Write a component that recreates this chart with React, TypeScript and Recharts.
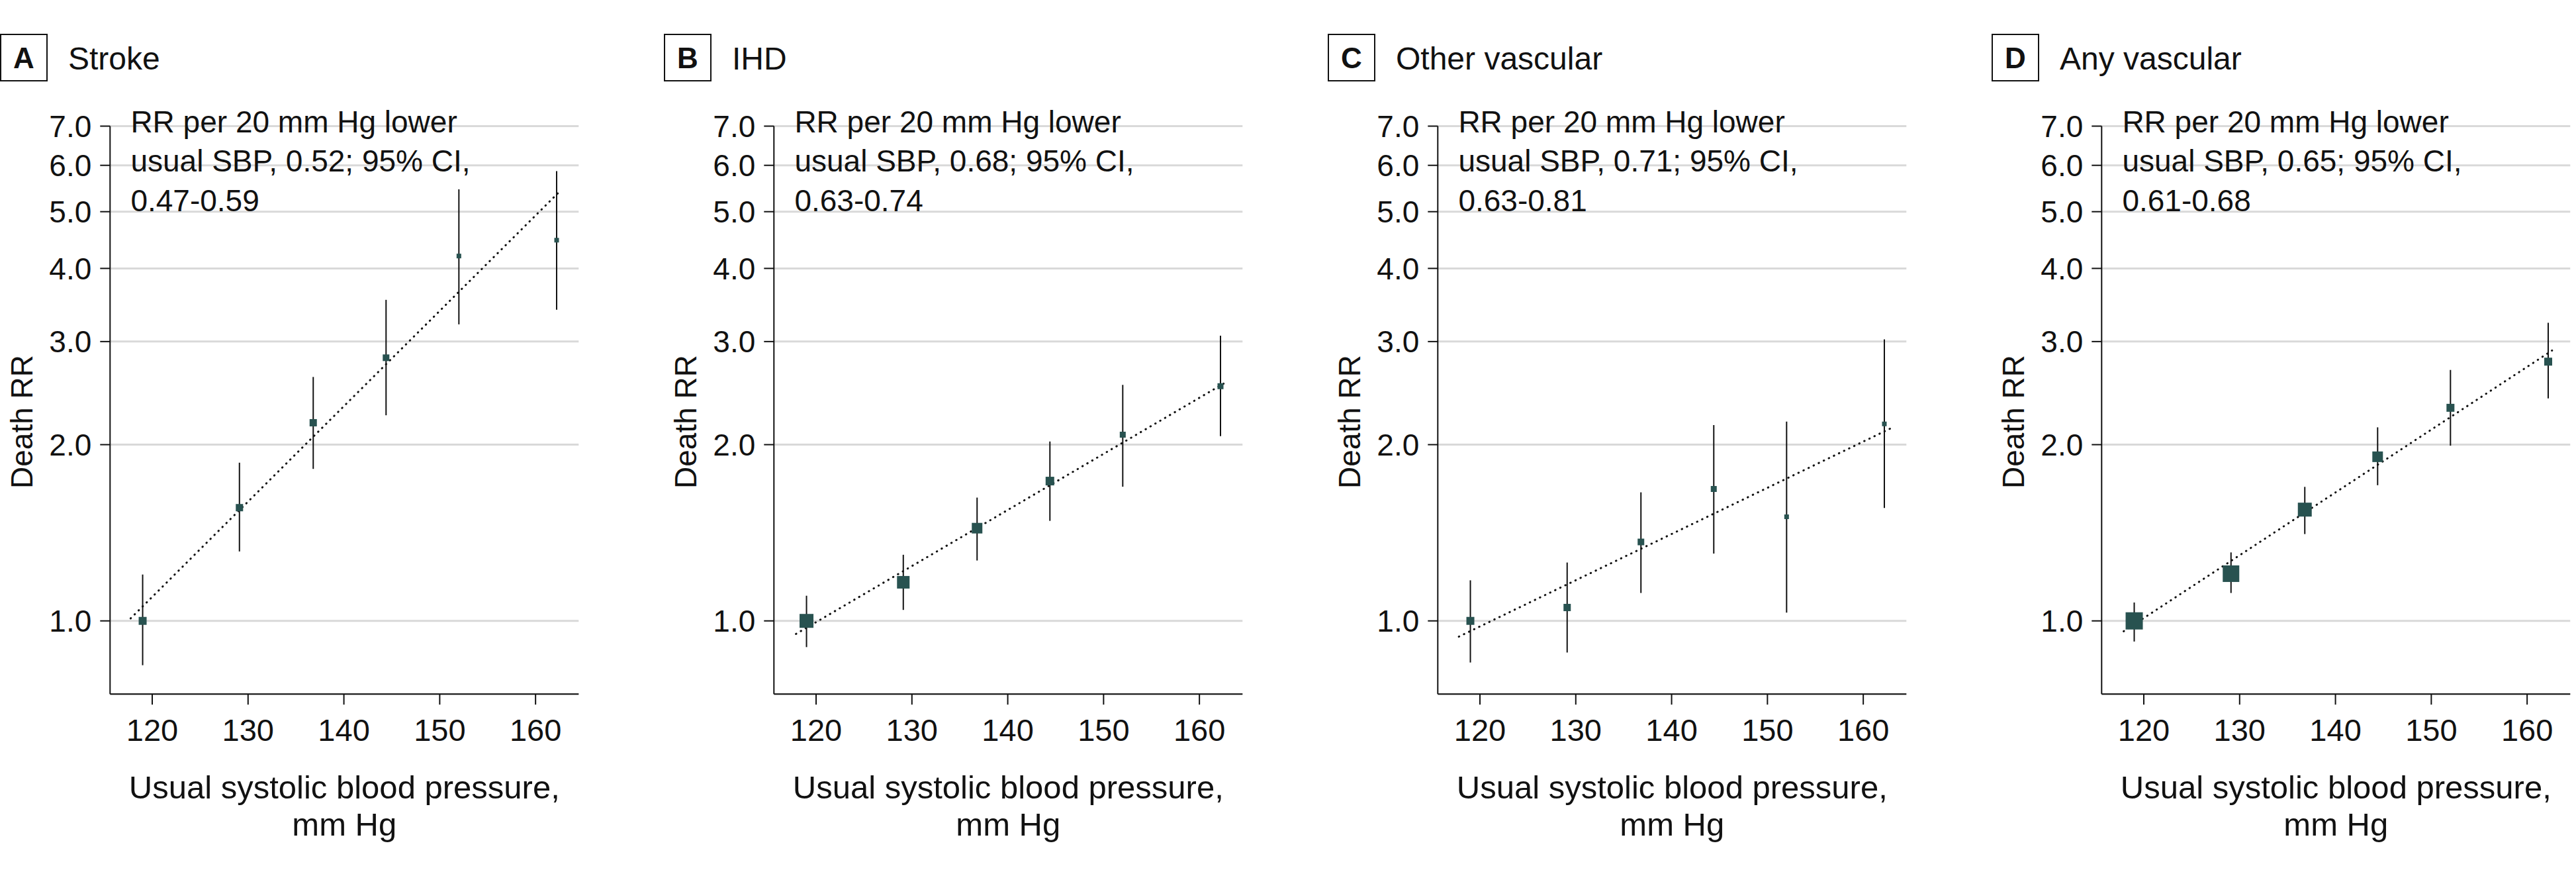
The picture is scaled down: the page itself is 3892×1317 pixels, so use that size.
import React from 'react';
import { ScatterChart, Scatter, XAxis, YAxis, CartesianGrid, ErrorBar } from 'recharts';

// ---- data ----
const sbp = [119.0, 129.1, 136.8, 144.4, 152.0, 162.2];
const xTicks = [120, 130, 140, 150, 160];
const yTicks = [1, 2, 3, 4, 5, 6, 7];

const panelLetters = ['A', 'B', 'C', 'D'];
const panelTitles = ['Stroke', 'IHD', 'Other vascular', 'Any vascular'];
const rrPer20 = ['0.52', '0.68', '0.71', '0.65'];
const rrCI = ['0.47-0.59', '0.63-0.74', '0.63-0.81', '0.61-0.68'];

const strokeRR = [1.0, 1.561, 2.18, 2.815, 4.2, 4.47];
const strokeLo = [0.84, 1.314, 1.818, 2.245, 3.21, 3.4];
const strokeHi = [1.2, 1.863, 2.61, 3.535, 5.46, 5.865];
const strokeSize = [12, 11, 11, 10, 7, 7];
const strokeFitX = [117.75, 162.35];
const strokeFitY = [1.01, 5.38];

const ihdRR = [1.0, 1.164, 1.44, 1.733, 2.08, 2.517];
const ihdLo = [0.902, 1.044, 1.268, 1.482, 1.695, 2.068];
const ihdHi = [1.104, 1.297, 1.624, 2.025, 2.53, 3.07];
const ihdSize = [21, 19, 16, 13, 9, 9];
const ihdFitX = [117.9, 162.8];
const ihdFitY = [0.95, 2.558];

const otherRR = [1.0, 1.054, 1.364, 1.68, 1.506, 2.17];
const otherLo = [0.849, 0.883, 1.116, 1.303, 1.033, 1.559];
const otherHi = [1.173, 1.258, 1.658, 2.16, 2.19, 3.026];
const otherSize = [12, 11, 10, 9, 7, 7];
const otherFitX = [117.8, 162.8];
const otherFitY = [0.94, 2.13];

const anyRR = [1.0, 1.204, 1.549, 1.907, 2.312, 2.772];
const anyLo = [0.922, 1.116, 1.407, 1.705, 1.992, 2.399];
const anyHi = [1.075, 1.309, 1.694, 2.141, 2.683, 3.23];
const anySize = [26, 25, 21, 16, 12, 12];
const anyFitX = [117.9, 162.6];
const anyFitY = [0.96, 2.896];

// ---- layout ----
const W = 3892;
const H = 1317;
const PANEL_W = 1003;
const FONT = "'Liberation Sans', Arial, sans-serif";
const MARK = '#285250';

const series = [
  { rr: strokeRR, lo: strokeLo, hi: strokeHi, size: strokeSize, fx: strokeFitX, fy: strokeFitY },
  { rr: ihdRR, lo: ihdLo, hi: ihdHi, size: ihdSize, fx: ihdFitX, fy: ihdFitY },
  { rr: otherRR, lo: otherLo, hi: otherHi, size: otherSize, fx: otherFitX, fy: otherFitY },
  { rr: anyRR, lo: anyLo, hi: anyHi, size: anySize, fx: anyFitX, fy: anyFitY },
];

const Square = (props: any) => {
  const { cx, cy, payload } = props;
  if (cx == null || cy == null) return <g />;
  const s = payload.size;
  return <rect x={cx - s / 2} y={cy - s / 2} width={s} height={s} fill={MARK} />;
};

const NoDot = () => <g />;

function Panel({ idx }: { idx: number }) {
  const s = series[idx];
  const points = sbp.map((x, i) => ({
    x,
    y: s.rr[i],
    err: [s.rr[i] - s.lo[i], s.hi[i] - s.rr[i]],
    size: s.size[i],
  }));
  const fit = s.fx.map((x, i) => ({ x, y: s.fy[i] }));
  return (
    <div style={{ position: 'absolute', left: idx * PANEL_W, top: 0 }}>
      <ScatterChart
        width={PANEL_W}
        height={H}
        margin={{ top: 190.5, right: 128.7, bottom: 208.8, left: 0 }}
      >
        <CartesianGrid vertical={false} stroke="#d9d9d9" strokeWidth={3} />
        <XAxis
          type="number"
          dataKey="x"
          domain={[115.6, 164.5]}
          allowDataOverflow
          ticks={xTicks}
          interval={0}
          height={60}
          tickSize={16}
          tickMargin={21}
          axisLine={{ stroke: '#111', strokeWidth: 2 }}
          tickLine={{ stroke: '#111', strokeWidth: 2 }}
          tick={{ fill: '#111', fontSize: 47, fontFamily: FONT }}
        />
        <YAxis
          type="number"
          dataKey="y"
          scale="log"
          domain={[0.75, 7]}
          allowDataOverflow
          ticks={yTicks}
          interval={0}
          width={166.3}
          tickSize={15}
          tickMargin={13}
          tickFormatter={(v: number) => v.toFixed(1)}
          axisLine={{ stroke: '#111', strokeWidth: 2 }}
          tickLine={{ stroke: '#111', strokeWidth: 2 }}
          tick={{ fill: '#111', fontSize: 46, fontFamily: FONT }}
        />
        <Scatter
          data={fit}
          line={{ stroke: '#111', strokeWidth: 3, strokeDasharray: '0.5 8', strokeLinecap: 'round' }}
          shape={NoDot}
          isAnimationActive={false}
          legendType="none"
        />
        <Scatter data={points} shape={Square} isAnimationActive={false} legendType="none">
          <ErrorBar dataKey="err" direction="y" width={0} stroke="#111" strokeWidth={2} isAnimationActive={false} />
        </Scatter>
      </ScatterChart>
    </div>
  );
}

function Overlay() {
  return (
    <svg
      width={W}
      height={H}
      style={{ position: 'absolute', left: 0, top: 0, pointerEvents: 'none' }}
      fontFamily={FONT}
      fill="#111"
    >
      {panelLetters.map((letter, i) => {
        const ox = i * PANEL_W;
        return (
          <g key={letter}>
            <rect x={ox + 1} y={52} width={70} height={70} fill="none" stroke="#111" strokeWidth={2} />
            <text x={ox + 36} y={103} textAnchor="middle" fontSize={44} fontWeight="bold">
              {letter}
            </text>
            <text x={ox + 103} y={105} fontSize={48}>
              {panelTitles[i]}
            </text>
            <text x={ox + 197.4} y={199.5} fontSize={46}>RR per 20 mm Hg lower</text>
            <text x={ox + 197.4} y={259} fontSize={46}>{`usual SBP, ${rrPer20[i]}; 95% CI,`}</text>
            <text x={ox + 197.4} y={318.5} fontSize={46}>{rrCI[i]}</text>
            <text
              x={ox + 48.7}
              y={637}
              fontSize={46}
              textAnchor="middle"
              transform={`rotate(-90, ${ox + 48.7}, 637)`}
            >
              Death RR
            </text>
            <text x={ox + 520.3} y={1206} fontSize={49} textAnchor="middle">
              Usual systolic blood pressure,
            </text>
            <text x={ox + 520.3} y={1262} fontSize={49} textAnchor="middle">
              mm Hg
            </text>
          </g>
        );
      })}
    </svg>
  );
}

export default function App() {
  return (
    <div style={{ position: 'absolute', left: 0, top: 0, width: W, height: H, background: '#fff' }}>
      {[0, 1, 2, 3].map((i) => (
        <Panel key={i} idx={i} />
      ))}
      <Overlay />
    </div>
  );
}
